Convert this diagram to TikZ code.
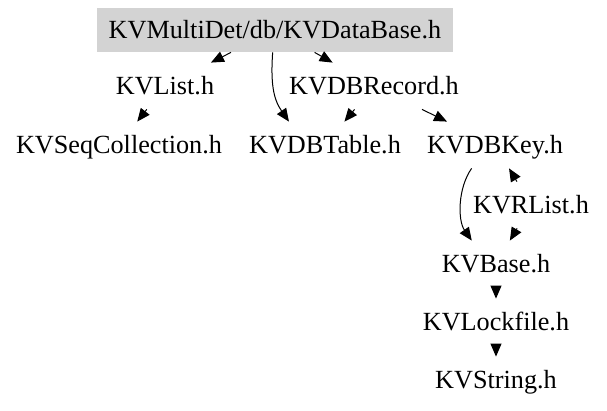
\documentclass[tikz,border=0pt]{standalone}
\usepackage{fontspec}
\setmainfont{Liberation Serif}
\usepackage{xcolor}
\usetikzlibrary{arrows.meta}
\definecolor{dbgray}{RGB}{211,211,211}

\begin{document}
\begin{tikzpicture}[x=0.5pt, y=-0.5pt,
  >={Triangle[length=6.5pt,width=5.5pt]},
  file/.style={inner xsep=5.5pt, inner ysep=0pt, minimum height=23pt,
    text height=12pt, text depth=3.5pt, font=\fontsize{13.1}{15}\selectfont},
  main/.style={file, fill=dbgray, minimum height=22pt, minimum width=178pt},
  edge/.style={->, line width=0.5pt}]

\useasboundingbox (0,0) rectangle (607,411);

% top file
\node[main] (db) at (275,30) {KVMultiDet/db/KVDataBase.h};

% first and second row
\node[file] (list)   at (165,86)  {KVList.h};
\node[file] (record) at (374,86)  {KVDBRecord.h};
\node[file] (seq)    at (119,145) {KVSeqCollection.h};
\node[file] (table)  at (325,145) {KVDBTable.h};
\node[file] (key)    at (495,145) {KVDBKey.h};

% lower chain
\node[file] (rlist)  at (531,205) {KVRList.h};
\node[file] (base)   at (496,264) {KVBase.h};
\node[file] (lock)   at (496,322) {KVLockfile.h};
\node[file] (string) at (496,380) {KVString.h};

% includes
\draw[edge] (db) -- (list);
\draw[edge] (db) -- (record);
\draw[edge] (db.-96) .. controls +(-2,30) and +(-16,-23) .. (table.147);
\draw[edge] (list) -- (seq);
\draw[edge] (record) -- (table);
\draw[edge] (record) -- (key);
\draw[edge] (key.-135) .. controls +(-14,20) and +(-14,-20) .. (base.136);
\draw[edge] (rlist) -- (key);
\draw[edge] (rlist) -- (base);
\draw[edge] (base) -- (lock);
\draw[edge] (lock) -- (string);

\end{tikzpicture}
\end{document}
